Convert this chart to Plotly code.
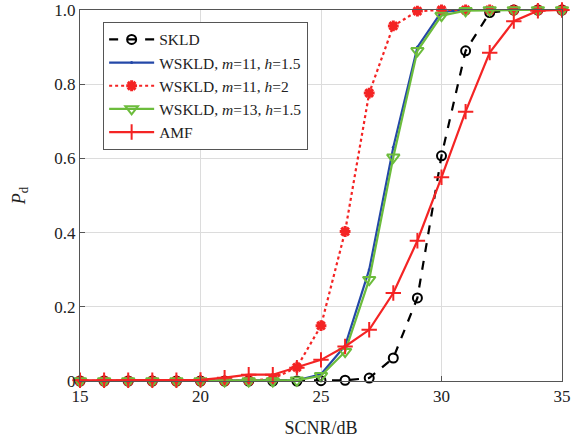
import plotly.graph_objects as go

snr = list(range(15, 36))

skld = [0, 0, 0, 0, 0, 0, 0, 0, 0, 0, 0.001, 0.002, 0.008, 0.062, 0.224, 0.607, 0.89, 0.993, 1.0, 1.0, 1.0]
wskld_11_15 = [0, 0, 0, 0, 0, 0, 0, 0, 0, 0.002, 0.018, 0.095, 0.30, 0.63, 0.90, 0.995, 1.0, 1.0, 1.0, 1.0, 1.0]
wskld_11_2 = [0, 0, 0, 0, 0, 0, 0, 0.001, 0.006, 0.037, 0.149, 0.403, 0.776, 0.957, 0.997, 1.0, 1.0, 1.0, 1.0, 1.0, 1.0]
wskld_13_15 = [0, 0, 0, 0, 0, 0, 0, 0, 0, 0.002, 0.014, 0.079, 0.273, 0.603, 0.89, 0.985, 0.998, 1.0, 1.0, 1.0, 1.0]
amf = [0.002, 0.002, 0.002, 0.002, 0.002, 0.003, 0.009, 0.017, 0.017, 0.036, 0.057, 0.093, 0.138, 0.237, 0.378, 0.549, 0.726, 0.885, 0.97, 0.998, 1.0]

x_ticks = [15, 20, 25, 30, 35]
y_ticks = [0, 0.2, 0.4, 0.6, 0.8, 1.0]
y_tick_labels = ["0", "0.2", "0.4", "0.6", "0.8", "1.0"]

names = ["SKLD",
         "WSKLD, <i>m</i>=11, <i>h</i>=1.5",
         "WSKLD, <i>m</i>=11, <i>h</i>=2",
         "WSKLD, <i>m</i>=13, <i>h</i>=1.5",
         "AMF"]

FONT = "Liberation Serif, Times New Roman, serif"
TXT = "#222222"

fig = go.Figure()
fig.add_trace(go.Scatter(x=snr, y=skld, name=names[0], mode="lines+markers",
                         line=dict(color="black", width=2.2, dash="dash"),
                         marker=dict(symbol="circle-open", size=9, color="black", line=dict(width=2)),
                         cliponaxis=False))
fig.add_trace(go.Scatter(x=snr, y=wskld_11_15, name=names[1], mode="lines+markers",
                         line=dict(color="#2448a8", width=2.2),
                         marker=dict(symbol="circle", size=3, color="#2448a8"),
                         cliponaxis=False))
fig.add_trace(go.Scatter(x=snr, y=wskld_11_2, name=names[2], mode="lines+markers",
                         line=dict(color="#f42424", width=2.2, dash="dot"),
                         marker=dict(symbol="asterisk-open", size=9, color="#f42424", line=dict(width=3)),
                         cliponaxis=False))
fig.add_trace(go.Scatter(x=snr, y=wskld_13_15, name=names[3], mode="lines+markers",
                         line=dict(color="#6cbc3c", width=2.2),
                         marker=dict(symbol="triangle-down-open", size=11, color="#6cbc3c", line=dict(width=2)),
                         cliponaxis=False))
fig.add_trace(go.Scatter(x=snr, y=amf, name=names[4], mode="lines+markers",
                         line=dict(color="#f42424", width=2.2),
                         marker=dict(symbol="cross-thin-open", size=11, color="#f42424", line=dict(width=2)),
                         cliponaxis=False))

fig.update_layout(
    width=583, height=445,
    margin=dict(l=80, r=21, t=10, b=64, autoexpand=False),
    paper_bgcolor="white", plot_bgcolor="white",
    font=dict(family=FONT, size=17, color=TXT),
    legend=dict(x=0.048, y=0.968, xanchor="left", yanchor="top",
                bgcolor="white", bordercolor="#555", borderwidth=1,
                itemwidth=45,
                font=dict(family=FONT, size=15.5, color=TXT), tracegroupgap=0),
    showlegend=True,
)
fig.update_xaxes(range=[15, 35], tickvals=x_ticks, automargin=False,
                 tickfont=dict(family=FONT, size=17, color=TXT),
                 ticklabeloverflow="allow",
                 showgrid=True, gridcolor="#dcdcdc", gridwidth=1,
                 showline=True, linecolor="#555", linewidth=1, mirror=True,
                 ticks="inside", ticklen=5, tickcolor="#555",
                 zeroline=False,
                 title=dict(text="SCNR/dB", font=dict(family=FONT, size=18, color=TXT), standoff=15))
fig.update_yaxes(range=[0, 1], tickvals=y_ticks, ticktext=y_tick_labels, automargin=False,
                 tickfont=dict(family=FONT, size=17, color=TXT),
                 ticklabeloverflow="allow",
                 showgrid=True, gridcolor="#dcdcdc", gridwidth=1,
                 showline=True, linecolor="#555", linewidth=1, mirror=True,
                 ticks="inside", ticklen=5, tickcolor="#555",
                 zeroline=False,
                 title=dict(text="<i>P</i><sub>d</sub>", font=dict(family=FONT, size=18, color=TXT), standoff=24))

fig.write_html("out.html")
